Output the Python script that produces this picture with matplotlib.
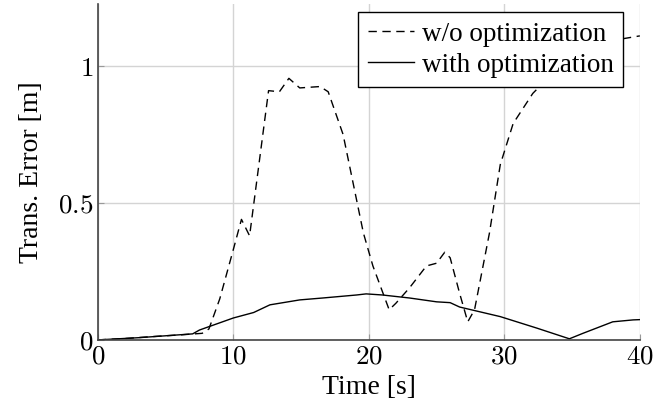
import matplotlib
matplotlib.use('Agg')
import matplotlib.pyplot as plt

# w/o optimization (dashed)
t_wo = [0, 2, 4, 6, 7.7, 8.2, 9.0, 10.0, 10.6, 11.2, 12.6, 13.4, 14.1, 14.9, 16.4, 17.0,
        18.1, 19.1, 19.6, 20.3, 21.5, 22.0, 23.0, 24.25, 25.0, 25.6, 26.0, 26.7, 27.3,
        27.8, 28.9, 29.7, 30.65, 32.1, 33.5, 35.0, 37.0, 38.8, 40.0]
e_wo = [0, 0.005, 0.012, 0.018, 0.024, 0.04, 0.15, 0.33, 0.44, 0.38, 0.91, 0.906, 0.955,
        0.92, 0.925, 0.906, 0.75, 0.51, 0.39, 0.27, 0.11, 0.134, 0.19, 0.27, 0.28, 0.32,
        0.30, 0.17, 0.066, 0.11, 0.39, 0.64, 0.79, 0.90, 0.97, 1.03, 1.08, 1.10, 1.11]

# with optimization (solid)
t_w = [0, 3, 7.0, 7.5, 10.0, 11.5, 12.7, 14.9, 16.6, 19.1, 19.8, 21.0, 23.0, 25.0, 26.0,
       26.7, 29.7, 32.4, 34.8, 35.8, 38.0, 39.5, 40.0]
e_w = [0, 0.008, 0.022, 0.036, 0.08, 0.10, 0.128, 0.146, 0.153, 0.164, 0.168, 0.164,
       0.153, 0.139, 0.136, 0.12, 0.085, 0.043, 0.004, 0.024, 0.066, 0.073, 0.074]

x_ticks = [0, 10, 20, 30, 40]
y_ticks = [0, 0.5, 1]
y_tick_labels = ['$0$', '$0.5$', '$1$']

plt.rcParams['font.family'] = ['Liberation Serif', 'DejaVu Serif']
plt.rcParams['mathtext.fontset'] = 'cm'

fig = plt.figure(figsize=(6.7, 4.11), dpi=100)
ax = fig.add_axes([0.146, 0.173, 0.809, 0.817])

ax.plot(t_wo, e_wo, color='black', lw=1.0, linestyle=(0, (6, 4)), label='w/o optimization')
ax.plot(t_w, e_w, color='black', lw=1.0, label='with optimization')

ax.set_xlim(0, 40)
ax.set_ylim(0, 1.226)
ax.set_xticks(x_ticks)
ax.set_xticklabels(['$%d$' % v for v in x_ticks])
ax.set_yticks(y_ticks)
ax.set_yticklabels(y_tick_labels)
ax.tick_params(direction='in', length=4, color='#999999', labelsize=19.5, pad=3)
ax.grid(True, color='#d4d4d4', lw=1.0)
ax.set_axisbelow(True)

ax.spines['top'].set_visible(False)
ax.spines['right'].set_visible(False)
for s in ['left', 'bottom']:
    ax.spines[s].set_color('#444444')
    ax.spines[s].set_linewidth(1.2)

ax.set_xlabel('Time [s]', fontsize=20, labelpad=4)
ax.set_ylabel('Trans. Error [m]', fontsize=20, labelpad=10)

leg = ax.legend(loc='upper right', bbox_to_anchor=(0.969, 0.976), fontsize=19.5,
                fancybox=False, edgecolor='black', framealpha=1, borderpad=0.35,
                handlelength=1.7, handletextpad=0.3, labelspacing=0.22, borderaxespad=0)
leg.get_frame().set_linewidth(1.0)

fig.savefig('out.png', dpi=100)
